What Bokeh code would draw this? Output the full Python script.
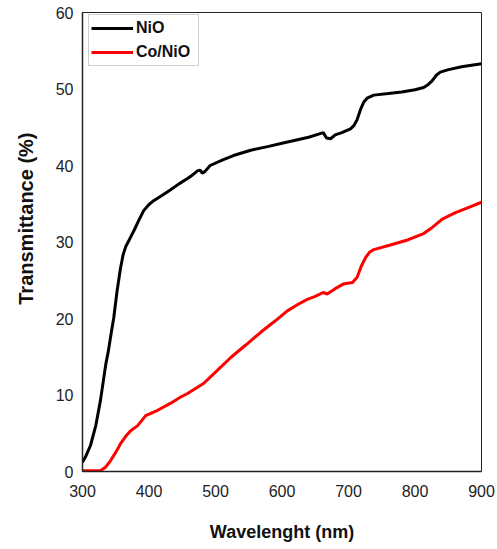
from bokeh.plotting import figure
from bokeh.models import Legend, LegendItem, Title, FixedTicker
from bokeh.embed import file_html
from bokeh.resources import INLINE

# Data
wl_nio = [300, 305, 312, 320, 327, 335, 339, 343, 347, 352, 357, 361, 365, 371, 378, 385, 392, 400,
          407, 420, 432, 445, 458, 466, 473, 477, 480, 484, 492, 510, 527, 553, 580,
          600, 620, 640, 655, 662, 667, 673, 680, 690, 703, 708, 713, 718, 723, 728,
          738, 760, 780, 800, 813, 820, 826, 832, 838, 849, 870, 900]
t_nio = [1.2, 2.0, 3.4, 6.0, 9.3, 14.0, 15.8, 18.0, 20.1, 23.6, 26.5, 28.3, 29.4, 30.4, 31.6, 32.9, 34.1, 34.9,
         35.4, 36.1, 36.8, 37.6, 38.3, 38.8, 39.3, 39.4, 39.0, 39.2, 40.0, 40.7, 41.3, 42.0, 42.5,
         42.9, 43.3, 43.7, 44.1, 44.3, 43.6, 43.5, 44.0, 44.3, 44.8, 45.2, 46.0, 47.3, 48.3, 48.8,
         49.2, 49.4, 49.6, 49.9, 50.2, 50.6, 51.1, 51.8, 52.2, 52.5, 52.9, 53.3]

wl_co = [300, 315, 327, 335, 342, 350, 357, 365, 372, 383, 395, 413, 432, 447, 458, 482,
         500, 523, 545, 568, 590, 608, 625, 638, 650, 662, 668, 680, 692, 706, 713, 719,
         726, 732, 738, 763, 790, 813, 826, 841, 860, 880, 900]
t_co = [0.1, 0.1, 0.1, 0.6, 1.4, 2.5, 3.6, 4.6, 5.3, 6.0, 7.3, 8.0, 8.9, 9.7, 10.2, 11.5,
        13.0, 14.9, 16.5, 18.2, 19.7, 21.0, 21.9, 22.5, 22.9, 23.4, 23.2, 23.9, 24.5, 24.7, 25.4, 26.8,
        28.0, 28.7, 29.0, 29.6, 30.3, 31.1, 31.9, 33.0, 33.8, 34.5, 35.2]

x_ticks = [300, 400, 500, 600, 700, 800, 900]
y_ticks = [0, 10, 20, 30, 40, 50, 60]

FONT = "Liberation Sans"

p = figure(width=497, height=549, x_range=(300, 900), y_range=(0, 60),
           output_backend="svg", toolbar_location=None,
           min_border_left=82, min_border_right=16, min_border_top=12, min_border_bottom=78)

p.background_fill_color = "white"
p.border_fill_color = "white"
p.outline_line_color = "#222222"
p.outline_line_width = 1
p.grid.visible = False

for ax in (p.xaxis[0], p.yaxis[0]):
    ax.major_tick_line_color = None
    ax.minor_tick_line_color = None
    ax.major_tick_out = 0
    ax.major_tick_in = 0
    ax.axis_line_color = "#222222"
    ax.axis_line_width = 1.5
    ax.major_label_text_font = FONT
    ax.major_label_text_font_size = "16px"
    ax.major_label_text_color = "#222222"

p.xaxis.ticker = FixedTicker(ticks=x_ticks)
p.yaxis.ticker = FixedTicker(ticks=y_ticks)
p.xaxis.major_label_standoff = 13
p.yaxis.major_label_standoff = 9

p.xaxis.axis_label = "Wavelenght (nm)"
p.xaxis.axis_label_text_font = FONT
p.xaxis.axis_label_text_font_style = "bold"
p.xaxis.axis_label_text_font_size = "18px"
p.xaxis.axis_label_text_color = "#111111"
p.xaxis.axis_label_standoff = 22

r1 = p.line(wl_nio, t_nio, line_color="black", line_width=3)
r2 = p.line(wl_co, t_co, line_color="#ff0000", line_width=3)

ytitle = Title(text="Transmittance (%)", align="right", offset=120, vertical_align="top",
               text_font=FONT, text_font_style="bold", text_font_size="20px",
               text_color="#111111", standoff=28)
p.add_layout(ytitle, "left")

legend = Legend(items=[LegendItem(label="NiO", renderers=[r1]),
                       LegendItem(label="Co/NiO", renderers=[r2])],
                location=(6, 405))
legend.margin = 0
legend.padding = 2
legend.spacing = 2
legend.glyph_width = 42
legend.glyph_height = 22
legend.label_height = 22
legend.label_width = 60
legend.label_standoff = 3
legend.label_text_font = FONT
legend.label_text_font_style = "bold"
legend.label_text_font_size = "16px"
legend.label_text_color = "#111111"
legend.border_line_color = "#a0a0a0"
legend.border_line_width = 1
legend.background_fill_color = "white"
legend.background_fill_alpha = 1
p.add_layout(legend)

open("out.html", "w").write(file_html(p, INLINE))
